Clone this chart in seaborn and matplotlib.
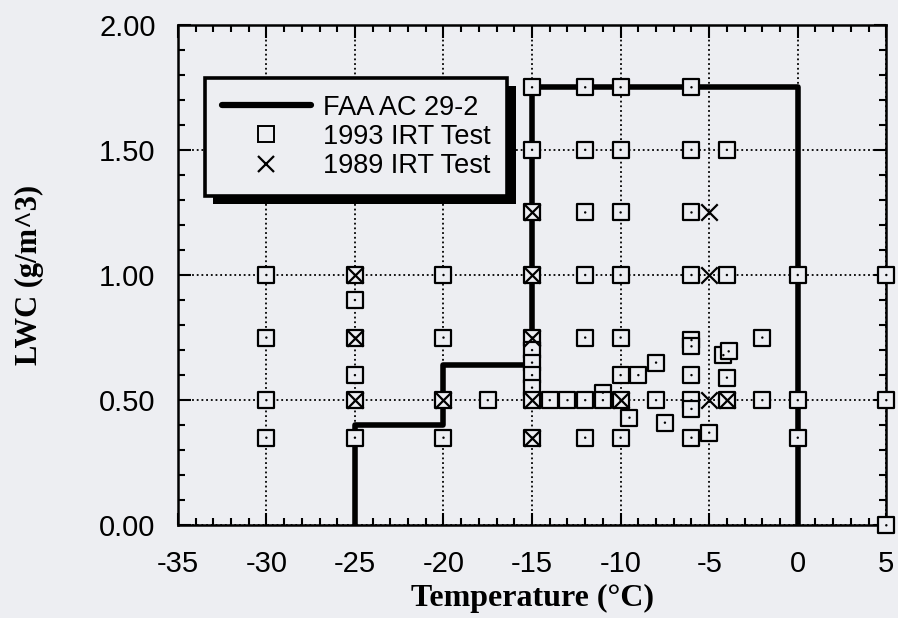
import matplotlib
matplotlib.use("Agg")
import matplotlib.pyplot as plt
import matplotlib.patheffects as pe
from matplotlib.lines import Line2D
from matplotlib.ticker import MultipleLocator, FormatStrFormatter
import seaborn as sns
import pandas as pd

# FAA AC 29-2 continuous-maximum icing envelope
faa_temp = [-25, -25, -20, -20, -15, -15, 0, 0]
faa_lwc = [0.00, 0.40, 0.40, 0.64, 0.64, 1.75, 1.75, 0.00]

# 1993 IRT test points
irt1993_temp = [
    -30, -30, -30, -30,
    -25, -25, -25, -25, -25, -25,
    -20, -20, -20, -20,
    -17.5,
    -15, -15, -15, -15, -15, -15, -15, -15, -15, -15, -15,
    -14, -13,
    -12, -12, -12, -12, -12, -12, -12,
    -11, -11,
    -10, -10, -10, -10, -10, -10, -10, -10,
    -9.5, -9, -8, -8, -7.5,
    -6, -6, -6, -6, -6, -6, -6, -6, -6, -6,
    -5, -4.2, -3.9,
    -4, -4, -4, -4,
    -2, -2,
    0, 0, 0,
    5, 5, 5,
]
irt1993_lwc = [
    1.00, 0.75, 0.50, 0.35,
    1.00, 0.90, 0.75, 0.60, 0.50, 0.35,
    1.00, 0.75, 0.50, 0.35,
    0.50,
    1.75, 1.50, 1.25, 1.00, 0.75, 0.70, 0.65, 0.60, 0.55, 0.50, 0.35,
    0.50, 0.50,
    1.75, 1.50, 1.25, 1.00, 0.75, 0.50, 0.35,
    0.53, 0.50,
    1.75, 1.50, 1.25, 1.00, 0.75, 0.60, 0.50, 0.35,
    0.43, 0.60, 0.65, 0.50, 0.41,
    1.75, 1.50, 1.25, 1.00, 0.74, 0.715, 0.60, 0.50, 0.465, 0.35,
    0.37, 0.68, 0.695,
    1.50, 1.00, 0.59, 0.50,
    0.75, 0.50,
    1.00, 0.50, 0.35,
    1.00, 0.50, 0.00,
]

# 1989 IRT test points
irt1989_temp = [-25, -25, -25, -20, -15, -15, -15, -15, -15, -10, -5, -5, -5, -4]
irt1989_lwc = [1.00, 0.75, 0.50, 0.50, 1.25, 1.00, 0.75, 0.50, 0.35, 0.50, 1.25, 1.00, 0.50, 0.50]

x_ticks = [-35, -30, -25, -20, -15, -10, -5, 0, 5]
y_ticks = [0.0, 0.5, 1.0, 1.5, 2.0]

bg = "#edeef2"
sns.set_theme(style="ticks")
plt.rcParams["font.family"] = ["Liberation Sans", "DejaVu Sans"]
plt.rcParams["text.color"] = "black"
plt.rcParams["axes.labelcolor"] = "black"

fig = plt.figure(figsize=(8.98, 6.18), dpi=100, facecolor=bg)
ax = fig.add_axes([0.198, 0.150, 0.789, 0.810])
ax.set_facecolor(bg)

df93 = pd.DataFrame({"T": irt1993_temp, "LWC": irt1993_lwc})
df89 = pd.DataFrame({"T": irt1989_temp, "LWC": irt1989_lwc})
dfaa = pd.DataFrame({"T": faa_temp, "LWC": faa_lwc})

sns.lineplot(data=dfaa, x="T", y="LWC", sort=False, estimator=None,
             color="black", linewidth=4.0, ax=ax, zorder=2)

# each square drawn on its own so later points overlap earlier ones
for i in range(len(df93)):
    row = df93.iloc[[i]]
    sns.scatterplot(data=row, x="T", y="LWC", marker="s", s=140,
                    color=bg, edgecolor="black", linewidth=1.6,
                    ax=ax, zorder=3 + i * 0.001, clip_on=False, legend=False)
sns.scatterplot(data=df93, x="T", y="LWC", marker="o", s=3,
                color="black", edgecolor="none", ax=ax, zorder=3.2,
                clip_on=False, legend=False)
sns.scatterplot(data=df89, x="T", y="LWC", marker="x", s=140,
                color="black", linewidth=1.6, ax=ax, zorder=4,
                clip_on=False, legend=False)

ax.set_xlim(-35, 5)
ax.set_ylim(0, 2)
ax.set_xticks(x_ticks)
ax.set_yticks(y_ticks)
ax.xaxis.set_minor_locator(MultipleLocator(1))
ax.yaxis.set_minor_locator(MultipleLocator(0.1))
ax.yaxis.set_major_formatter(FormatStrFormatter("%.2f"))
ax.set_xticklabels([str(t) for t in x_ticks])

ax.tick_params(which="both", direction="in", top=True, right=True,
               colors="black", width=1.5, labelsize=21, labelcolor="black")
ax.tick_params(axis="x", which="major", pad=18)
ax.tick_params(axis="y", which="major", pad=16)
ax.tick_params(which="major", length=9)
ax.tick_params(which="minor", length=5)
for sp in ax.spines.values():
    sp.set_linewidth(1.8)
    sp.set_color("black")
    sp.set_visible(True)

ax.grid(True, which="major", color="black", linestyle=(0, (1, 1.6)),
        linewidth=1.3, zorder=1)
ax.set_axisbelow(True)

ax.set_xlabel("Temperature (°C)", fontsize=23, fontweight="bold",
              family=["Liberation Serif", "DejaVu Serif"], labelpad=4)
ax.set_ylabel("LWC (g/m^3)", fontsize=22, fontweight="bold",
              family=["Liberation Serif", "DejaVu Serif"], labelpad=40)

handles = [
    Line2D([], [], color="black", linewidth=4.5),
    Line2D([], [], linestyle="none", marker="s", markersize=11,
           markerfacecolor=bg, markeredgecolor="black", markeredgewidth=1.4),
    Line2D([], [], linestyle="none", marker="x", markersize=12,
           color="black", markeredgewidth=1.6),
]
leg = ax.legend(handles, ["FAA AC 29-2", "1993 IRT Test", "1989 IRT Test"],
                loc="upper left", bbox_to_anchor=(0.038, 0.894),
                borderaxespad=0, fontsize=19.5, handlelength=3.3,
                handletextpad=0.45, labelspacing=0.12, borderpad=0.62,
                frameon=True, fancybox=False, framealpha=1)
for t in leg.get_texts():
    t.set_color("black")
frame = leg.get_frame()
frame.set_facecolor(bg)
frame.set_edgecolor("black")
frame.set_linewidth(2.6)
frame.set_path_effects([
    pe.SimplePatchShadow(offset=(6, -6), shadow_rgbFace="black", alpha=1.0),
    pe.Normal(),
])
leg.set_zorder(6)

fig.savefig("out.png", dpi=100, facecolor=bg)
